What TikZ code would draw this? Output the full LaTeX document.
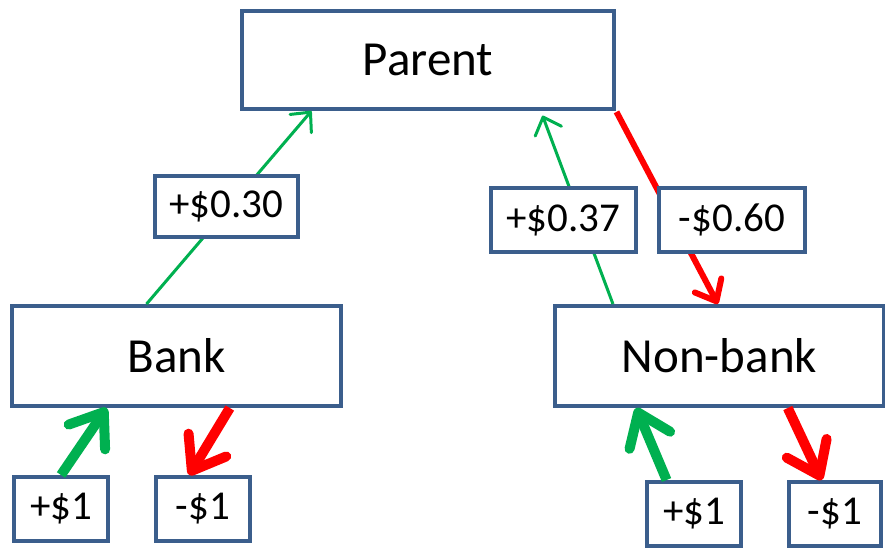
\documentclass[tikz,border=0pt]{standalone}
\usepackage{fontspec}
\setmainfont{Carlito}
\usetikzlibrary{arrows.meta,calc}
\definecolor{boxblue}{HTML}{3B5E8C}
\definecolor{gaingreen}{HTML}{00B050}
\definecolor{lossred}{HTML}{FF0000}
\tikzset{
  entity/.style={draw=boxblue, line width=4pt, fill=white, minimum width=329pt,
    minimum height=100pt, inner sep=0pt, font=\fontsize{49}{58}\selectfont},
  amount/.style={draw=boxblue, line width=4pt, fill=white, inner sep=0pt,
    minimum height=64pt, font=\fontsize{41}{49}\selectfont},
  thinflow/.style={line width=3pt, -{Straight Barb[length=15pt,width=28pt,round]}},
  midflow/.style={line width=6pt, -{Straight Barb[length=18pt,width=30pt,round]}},
  thickflow/.style={line width=10pt, -{Straight Barb[length=30pt,width=44pt,round]}},
}
\begin{document}
\begin{tikzpicture}[x=1pt,y=-1pt]
  \fill[white] (0,0) rectangle (885,547);
  \path[use as bounding box] (0,0) rectangle (885,547);

  % entities
  \node[entity, minimum width=372pt, minimum height=98pt] (parent) at (428,60) {Parent};
  \node[entity] (bank) at (176.5,356) {Bank};
  \node[entity] (nonbank) at (719.5,356) {Non-bank};

  % external flows
  \node[amount, minimum width=94pt] (bplus) at (61,509) {+\$1};
  \node[amount, minimum width=94pt] (bminus) at (203,509) {-\$1};
  \node[amount, minimum width=94pt] (nplus) at (694,514) {+\$1};
  \node[amount, minimum width=92pt] (nminus) at (835,514) {-\$1};

  % flows to and from the parent
  \draw[thinflow, gaingreen]
    ($(bank.north west)!0.41!(bank.north east)$) --
    ($(parent.south west)!0.19!(parent.south east)$);
  \draw[thinflow, gaingreen, shorten >=5pt]
    ($(nonbank.north west)!0.18!(nonbank.north east)$) --
    ($(parent.south west)!0.80!(parent.south east)$);
  \draw[midflow, lossred, shorten <=1pt]
    (parent.south east) -- ($(nonbank.north west)!0.495!(nonbank.north east)$);

  % transfer amounts, drawn over the flow lines
  \node[amount, minimum width=143pt, minimum height=61pt] (bup) at (226.5,206.5) {+\$0.30};
  \node[amount, minimum width=145pt] (nup) at (563.5,220) {+\$0.37};
  \node[amount, minimum width=146pt] (ndown) at (732,220) {-\$0.60};

  % flows between the subsidiaries and the outside
  \draw[thickflow, gaingreen]
    ($(bplus.north west)!0.5!(bplus.north east)$) --
    ($(bank.south west)!0.29!(bank.south east)$);
  \draw[thickflow, lossred]
    ($(bank.south west)!0.66!(bank.south east)$) --
    ($(bminus.north west)!0.36!(bminus.north east)$);
  \draw[thickflow, gaingreen]
    ($(nplus.north west)!0.22!(nplus.north east)$) --
    ($(nonbank.south west)!0.25!(nonbank.south east)$);
  \draw[thickflow, lossred]
    ($(nonbank.south west)!0.705!(nonbank.south east)$) --
    ($(nminus.north west)!0.36!(nminus.north east)$);
\end{tikzpicture}
\end{document}
